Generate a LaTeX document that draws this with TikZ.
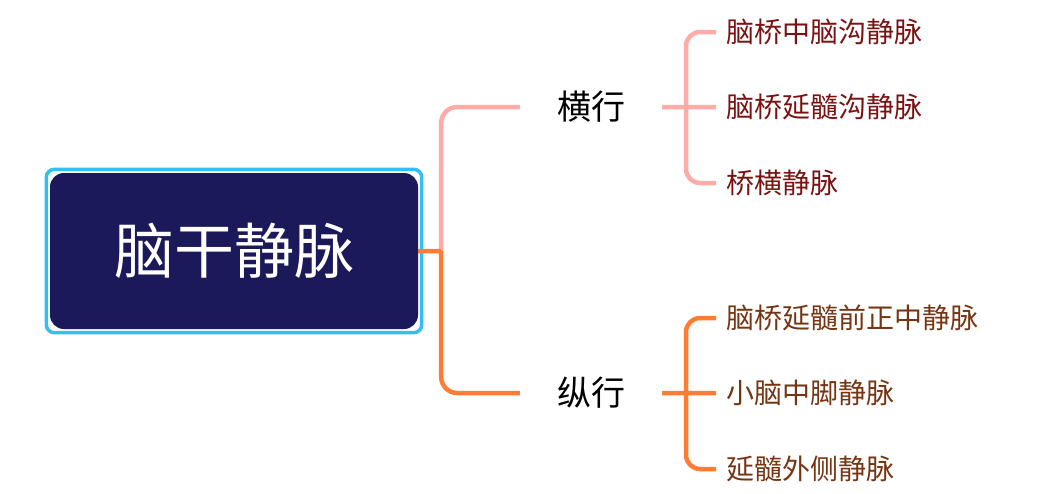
\documentclass[tikz,border=0pt]{standalone}
\usepackage{fontspec}
\setmainfont{Noto Sans CJK SC}
\usetikzlibrary{positioning,fit}
\definecolor{navy}{HTML}{1B195A}
\definecolor{selblue}{HTML}{35BDF6}
\definecolor{hpink}{HTML}{FFABA8}
\definecolor{zorange}{HTML}{FF7C35}
\definecolor{hleaf}{HTML}{7A1212}
\definecolor{zleaf}{HTML}{763512}
\begin{document}
\begin{tikzpicture}[x=1pt, y=-1pt, line join=round,
	root/.style={fill=navy, rounded corners=14pt, minimum width=368pt, minimum height=156pt, text=white, font=\fontsize{60}{64}\selectfont},
	sel/.style={draw=selblue, line width=3.5pt, rounded corners=8pt, inner sep=3.5pt},
	mid/.style={minimum width=142pt, inner sep=0pt, font=\fontsize{34}{38}\selectfont},
	leaf/.style={anchor=west, inner xsep=10pt, inner ysep=0pt, font=\fontsize{28}{32}\selectfont},
	wire/.style={line width=4.5pt, rounded corners=16pt}]
	\useasboundingbox (0,0) rectangle (1044,493);

	\node[root] (R) at (234,251) {脑干静脉};
	\node[sel, fit=(R)] (Rsel) {};
	\node[mid] (H) at (591,107) {横行};
	\node[mid] (Z) at (591,393) {纵行};
	\coordinate (J) at ([xshift=23pt]R.east);

	\foreach \n/\y/\t in {H1/32/脑桥中脑沟静脉, H2/107/脑桥延髓沟静脉, H3/183/桥横静脉}
	\node[leaf, text=hleaf] (\n) at (716,\y) {\t};
	\foreach \n/\y/\t in {Z1/318/脑桥延髓前正中静脉, Z2/393/小脑中脚静脉, Z3/469/延髓外侧静脉}
	\node[leaf, text=zleaf] (\n) at (716,\y) {\t};

	\draw[wire, hpink] (J) |- (H.west);
	\draw[wire, zorange] (J) |- (Z.west) (R.east) -- (J);

	\draw[wire, hpink, rounded corners=14pt] (H.east) -- (H2.west) (H1.west) -- ++(-30,0) |- (H3.west);
	\draw[wire, zorange, rounded corners=14pt] (Z.east) -- (Z2.west) (Z1.west) -- ++(-30,0) |- (Z3.west);
\end{tikzpicture}
\end{document}
